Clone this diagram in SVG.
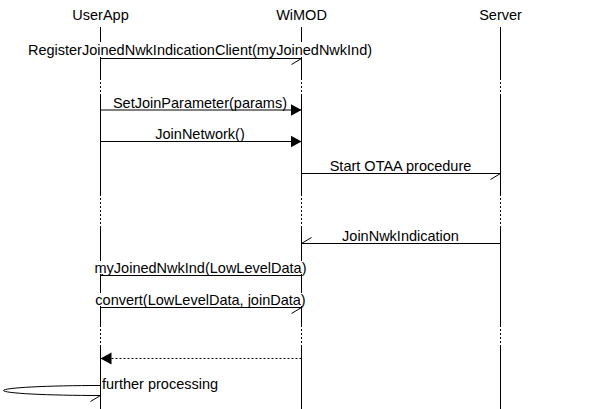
<svg xmlns="http://www.w3.org/2000/svg" width="600" height="409" viewBox="0 0 600 409">
<style>
  text { font-family: "Liberation Sans", Arial, sans-serif; font-size: 14.5px; fill: #000; }
  .mid { text-anchor: middle; }
  .life { stroke: #000; stroke-width: 1; fill: none; }
  .dot { stroke: #000; stroke-width: 1; stroke-dasharray: 2 2; fill: none; }
  .arc { stroke: #000; stroke-width: 1; fill: none; }
  .dash { stroke: #000; stroke-width: 1; stroke-dasharray: 2 2; fill: none; }
  .bg { fill: #fff; }
</style>
<defs>
  <marker id="half" viewBox="0 0 12 8" refX="11" refY="1" markerWidth="12" markerHeight="8" markerUnits="userSpaceOnUse" orient="auto">
    <path d="M1,7 L11,1" stroke="#000" stroke-width="1" fill="none"/>
  </marker>
  <marker id="fill" viewBox="0 0 12 14" refX="11" refY="7" markerWidth="12" markerHeight="14" markerUnits="userSpaceOnUse" orient="auto">
    <path d="M0,1 L11,7 L0,13 Z" fill="#000"/>
  </marker>
</defs>
<rect width="600" height="409" fill="#fff"/>

<g id="lifelines">
  <g id="UserApp">
    <text class="mid" x="100.5" y="20">UserApp</text>
    <path class="life" d="M100.5,27 V78 M100.5,95 V194 M100.5,228 V325 M100.5,345 V409"/>
    <path class="dot" d="M100.5,78 V95 M100.5,194 V228 M100.5,325 V345"/>
  </g>
  <g id="WiMOD">
    <text class="mid" x="301.5" y="20">WiMOD</text>
    <path class="life" d="M301.5,27 V78 M301.5,95 V194 M301.5,228 V325 M301.5,345 V409"/>
    <path class="dot" d="M301.5,78 V95 M301.5,194 V228 M301.5,325 V345"/>
  </g>
  <g id="Server">
    <text class="mid" x="500.5" y="20">Server</text>
    <path class="life" d="M500.5,27 V78 M500.5,95 V194 M500.5,228 V325 M500.5,345 V409"/>
    <path class="dot" d="M500.5,78 V95 M500.5,194 V228 M500.5,325 V345"/>
  </g>
</g>

<g id="connectors">
  <g id="m1">
    <line class="arc" x1="100.5" y1="58.5" x2="301.5" y2="58.5" marker-end="url(#half)"/>
    <rect class="bg" x="27" y="42" width="346" height="15"/>
    <text class="mid" x="200" y="55">RegisterJoinedNwkIndicationClient(myJoinedNwkInd)</text>
  </g>
  <g id="m2">
    <line class="arc" x1="100.5" y1="110" x2="301.5" y2="110" marker-end="url(#fill)"/>
    <text class="mid" x="200" y="108">SetJoinParameter(params)</text>
  </g>
  <g id="m3">
    <line class="arc" x1="100.5" y1="141.5" x2="301.5" y2="141.5" marker-end="url(#fill)"/>
    <text class="mid" x="200" y="139">JoinNetwork()</text>
  </g>
  <g id="m4">
    <line class="arc" x1="301.5" y1="173.5" x2="500.5" y2="173.5" marker-end="url(#half)"/>
    <text class="mid" x="400.5" y="171">Start OTAA procedure</text>
  </g>
  <g id="m5">
    <line class="arc" x1="500.5" y1="243.5" x2="301.5" y2="243.5" marker-end="url(#half)"/>
    <text class="mid" x="400.5" y="241">JoinNwkIndication</text>
  </g>
  <g id="m6">
    <line class="arc" x1="301.5" y1="275.5" x2="100.5" y2="275.5" marker-end="url(#half)"/>
    <rect class="bg" x="94" y="261" width="213" height="13"/>
    <text class="mid" x="200.5" y="273">myJoinedNwkInd(LowLevelData)</text>
  </g>
  <g id="m7">
    <line class="arc" x1="100.5" y1="307.5" x2="301.5" y2="307.5" marker-end="url(#half)"/>
    <rect class="bg" x="94" y="293" width="213" height="13"/>
    <text class="mid" x="200.5" y="305">convert(LowLevelData, joinData)</text>
  </g>
  <g id="m8">
    <line class="dash" x1="301.5" y1="358.5" x2="100.5" y2="358.5" marker-end="url(#fill)"/>
  </g>
  <g id="m9">
    <path class="arc" d="M100.5,385.5 A97,5 0 0 0 100.5,395.5" marker-end="url(#half)"/>
    <text x="102" y="389">further processing</text>
  </g>
</g>
</svg>
